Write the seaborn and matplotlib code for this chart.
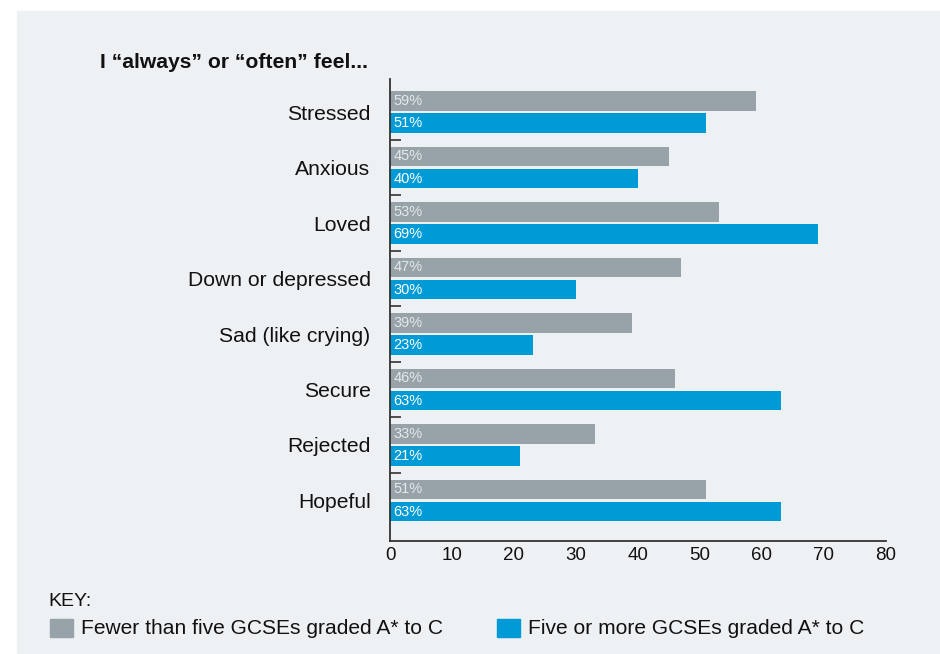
import matplotlib
matplotlib.use("Agg")
import matplotlib.pyplot as plt
from matplotlib.patches import Rectangle
import pandas as pd
import seaborn as sns

# Share of young people who "always" or "often" feel each emotion (%)
feelings = ["Stressed", "Anxious", "Loved", "Down or depressed",
            "Sad (like crying)", "Secure", "Rejected", "Hopeful"]
fewer_than_five = [59, 45, 53, 47, 39, 46, 33, 51]
five_or_more = [51, 40, 69, 30, 23, 63, 21, 63]
group_names = ["Fewer than five GCSEs graded A* to C",
               "Five or more GCSEs graded A* to C"]
x_ticks = [0, 10, 20, 30, 40, 50, 60, 70, 80]

GREY = "#97a3a9"
BLUE = "#009ad6"
PANEL = "#eef1f4"
INK = "#111111"
AXIS = "#333333"

df = pd.DataFrame({
    "feeling": feelings * 2,
    "group": [group_names[0]] * len(feelings) + [group_names[1]] * len(feelings),
    "value": fewer_than_five + five_or_more,
})

sns.set_theme(style="white")
plt.rcParams["font.family"] = ["Liberation Sans", "DejaVu Sans"]

W, H = 940, 654
fig = plt.figure(figsize=(W / 100, H / 100), dpi=100, facecolor="white")
fig.patches.append(Rectangle((17 / W, 0), 1 - 17 / W, 1 - 11 / H,
                             transform=fig.transFigure, color=PANEL, zorder=-10))

ax = fig.add_axes([390 / W, 1 - 541 / H, 496 / W, 462 / H])
ax.set_facecolor("none")

sns.barplot(data=df, y="feeling", x="value", hue="group", orient="h",
            palette=[GREY, BLUE], saturation=1, width=0.8, gap=0.115,
            linewidth=0, edgecolor="none", legend=False, ax=ax)

# value labels inside each bar, at the left end
label_colors = ["#e4e8ea", "white"]
series = [fewer_than_five, five_or_more]
for container, vals, col in zip(ax.containers, series, label_colors):
    for bar, v in zip(container, vals):
        yc = bar.get_y() + bar.get_height() / 2
        ax.text(0.6, yc, f"{v}%", color=col, fontsize=10.5,
                ha="left", va="center")

ax.set_xlim(0, 80)
ax.set_ylim(7.73, -0.595)
ax.set_xlabel("")
ax.set_ylabel("")
ax.set_xticks(x_ticks)
ax.set_xticklabels([str(t) for t in x_ticks])

for side in ["top", "right"]:
    ax.spines[side].set_visible(False)
for side in ["left", "bottom"]:
    ax.spines[side].set_color(AXIS)
    ax.spines[side].set_linewidth(1.3)

ax.tick_params(axis="x", which="major", direction="in", length=9, width=1.2,
               color=AXIS, labelsize=13.5, labelcolor=INK, pad=4)
ax.tick_params(axis="y", which="major", length=0, pad=14,
               labelsize=15.2, labelcolor=INK)
ax.set_yticks([i + 0.5 for i in range(len(feelings) - 1)], minor=True)
ax.tick_params(axis="y", which="minor", direction="in", length=8, width=1.2,
               color=AXIS, left=True)

fig.text(368 / W, 1 - 63 / H, "I \u201calways\u201d or \u201coften\u201d feel...",
         ha="right", va="center", fontsize=15.2, fontweight="bold", color=INK)

# key
fig.text(48 / W, 1 - 601 / H, "KEY:", ha="left", va="center",
         fontsize=14, color=INK)
for x0, col, name in [(50, GREY, group_names[0]), (497, BLUE, group_names[1])]:
    fig.patches.append(Rectangle((x0 / W, 1 - 637 / H), 23 / W, 18 / H,
                                 transform=fig.transFigure, color=col))
    fig.text((x0 + 31) / W, 1 - 628 / H, name, ha="left", va="center",
             fontsize=15.1, color=INK)

fig.savefig("out.png", dpi=100, facecolor="white")
